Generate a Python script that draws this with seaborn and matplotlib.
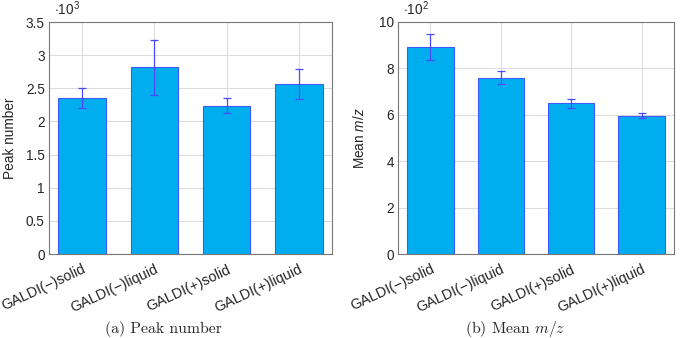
import matplotlib
matplotlib.use('Agg')
import matplotlib.pyplot as plt
import numpy as np
import pandas as pd
import seaborn as sns

# Data
categories = ['GALDI(\u2212)solid', 'GALDI(\u2212)liquid', 'GALDI(+)solid', 'GALDI(+)liquid']
peak_number = [2360, 2815, 2240, 2560]
peak_number_err = [150, 420, 115, 225]
mean_mz = [892, 760, 649, 596]
mean_mz_err = [57, 29, 20, 10]

sns.set_theme(style='white')
plt.rcParams['font.family'] = ['Liberation Sans', 'DejaVu Sans']
plt.rcParams['mathtext.fontset'] = 'custom'
plt.rcParams['mathtext.it'] = 'Liberation Sans:italic'
plt.rcParams['mathtext.rm'] = 'Liberation Sans'

fill = '#00aeef'
edge = '#3a5bff'
errc = '#4a4aff'
fs = 9.8


def draw_panel(ax, values, errors, scale, exp, ylim, yticks, ylabel):
    df = pd.DataFrame({'cat': categories, 'val': np.array(values) / scale})
    sns.barplot(data=df, x='cat', y='val', ax=ax, color=fill, saturation=1,
                width=0.66, edgecolor=edge, linewidth=0.8, errorbar=None,
                zorder=2)
    ax.errorbar(np.arange(len(categories)), df['val'],
                yerr=np.array(errors) / scale, fmt='none', ecolor=errc,
                elinewidth=0.9, capsize=3, capthick=0.9, zorder=3)
    ax.set_xlim(-0.46, 3.46)
    ax.set_ylim(*ylim)
    ax.set_yticks(yticks)
    ax.set_yticklabels(['{:g}'.format(t) for t in yticks], fontsize=fs)
    ax.set_xticks(np.arange(len(categories)))
    ax.set_xticklabels(categories, rotation=25, ha='right',
                       rotation_mode='anchor', fontsize=10.4)
    ax.grid(True, color='#dcdcdc', linewidth=0.8, zorder=0)
    ax.set_axisbelow(True)
    ax.tick_params(axis='y', length=0, pad=3)
    ax.tick_params(axis='x', length=0, pad=6)
    ax.set_xlabel('')
    ax.set_ylabel(ylabel, fontsize=fs)
    for s in ax.spines.values():
        s.set_color('#777777')
        s.set_linewidth(0.8)
    ax.text(0.018, 1.03, r'$\cdot 10^{%d}$' % exp, transform=ax.transAxes,
            fontsize=fs, ha='left', va='baseline')


fig = plt.figure(figsize=(6.82, 3.38), dpi=100)
ax1 = fig.add_axes([49 / 682, 1 - 254 / 338, 283 / 682, 232 / 338])
ax2 = fig.add_axes([398 / 682, 1 - 254 / 338, 276 / 682, 232 / 338])

draw_panel(ax1, peak_number, peak_number_err, 1000, 3, (0, 3.5),
           [0, 0.5, 1, 1.5, 2, 2.5, 3, 3.5], 'Peak number')
draw_panel(ax2, mean_mz, mean_mz_err, 100, 2, (0, 10),
           [0, 2, 4, 6, 8, 10], r'Mean $m/z$')
ax1.yaxis.set_label_coords(-32 / 283, 0.5)
ax2.yaxis.set_label_coords(-31 / 276, 0.5)

fig.text(163 / 682, 1 - 329 / 338, '(a) Peak number', family='cmr10',
         fontsize=11.3, ha='center', va='center')
fig.text(515 / 682, 1 - 329 / 338, r'(b) Mean $m/z$', family='cmr10',
         math_fontfamily='cm', fontsize=11.3, ha='center', va='center')

fig.savefig('out.png', dpi=100)
